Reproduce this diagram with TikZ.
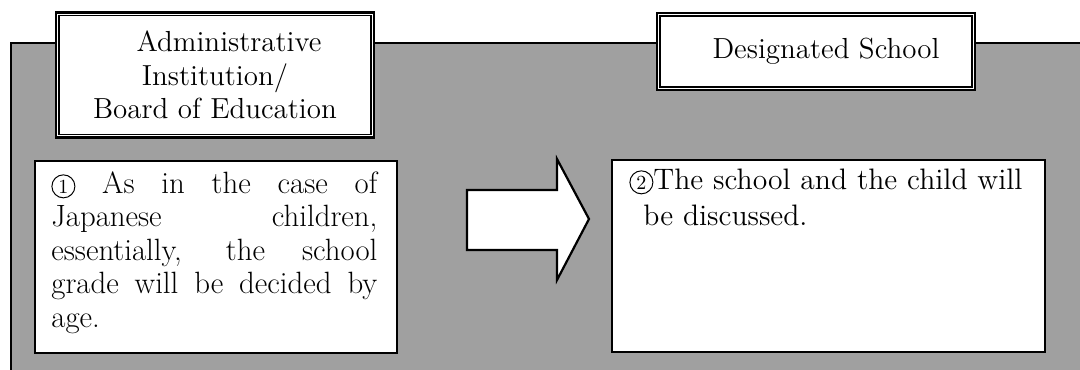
\documentclass[tikz,border=0pt]{standalone}
\usepackage{fontspec}
\usetikzlibrary{positioning}
\definecolor{panelgray}{RGB}{160,160,160}
\newcommand{\circnum}[1]{\tikz[baseline=(circ#1.base)]\node[circle, draw, line width=0.5pt, inner sep=0pt, minimum size=11.5pt] (circ#1) {\fontsize{10}{10}\selectfont #1};}
\tikzset{
	titlebox/.style={draw, fill=white, line width=1.4pt, inner sep=0pt, align=center,
		font=\fontsize{14.5}{16.75}\selectfont},
	framebox/.style={draw, fill=white, line width=0.9pt, inner sep=0pt, anchor=north west,
		minimum height=96pt},
	bodytext/.style={inner sep=0pt, anchor=base west},
	blockarrow/.style={draw, fill=white, line width=1.1pt, line join=miter},
}
\begin{document}
\begin{tikzpicture}[x=0.5pt, y=-0.5pt]
				\useasboundingbox (0,0) rectangle (1080,369);
				\clip (0,0) rectangle (1080,369);
				\fill[panelgray] (11,43) rectangle (1100,400);
				\draw[line width=1pt] (1100,43) -- (11,43) -- (11,400);
				\node[titlebox, minimum width=159pt, minimum height=62.3pt] (admin) at (215,75)
					{\hspace*{14pt}Administrative\\Institution/\\Board of Education};
				\node[titlebox, minimum width=159pt, minimum height=38.5pt] (school) at (816,51.5)
					{\hspace*{10pt}Designated School};
				\foreach \t in {admin, school}
					\draw[line width=0.7pt] ([shift={(2.2pt,-2.2pt)}]\t.north west) rectangle ([shift={(-2.2pt,2.2pt)}]\t.south east);
				\node[framebox, minimum width=181pt] (age) at (34,160) {};
				\node[framebox, minimum width=216.5pt] (talk) at (611,159) {};
				\node[bodytext, text width=163pt, align=justify, font=\fontsize{15.4}{16.8}\selectfont] (agetext)
					at ([xshift=8.5pt, yshift=-16.5pt]age.north west)
					{\circnum{1} As in the case of\linebreak Japanese children,\linebreak essentially, the school\linebreak grade will be decided by\linebreak age.};
				\node[bodytext, text width=205pt, align=left, font=\fontsize{14.8}{18}\selectfont] (talktext)
					at ([xshift=9pt, yshift=-15pt]talk.north west)
					{\circnum{2}The school and the child will\\\hspace*{7pt}be discussed.};
				\draw[blockarrow] (467,190) coordinate (tail) -- (557,190) -- (557,159) -- (589,219) coordinate (tip)
					-- (557,280) -- (557,250) -- (467,250) -- cycle;
\end{tikzpicture}
\end{document}
